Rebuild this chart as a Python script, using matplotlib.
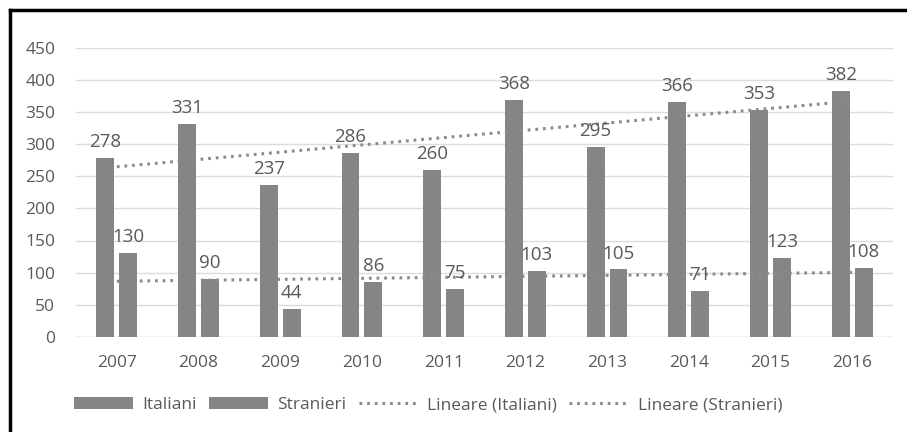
import matplotlib
matplotlib.use("Agg")
import matplotlib.pyplot as plt
import numpy as np
from matplotlib.lines import Line2D

years = ["2007", "2008", "2009", "2010", "2011", "2012", "2013", "2014", "2015", "2016"]
italiani = [278, 331, 237, 286, 260, 368, 295, 366, 353, 382]
stranieri = [130, 90, 44, 86, 75, 103, 105, 71, 123, 108]
yticks = [0, 50, 100, 150, 200, 250, 300, 350, 400, 450]

plt.rcParams['font.family'] = ['Open Sans', 'DejaVu Sans']
txt = '#595959'
bar_c = '#858585'

fig = plt.figure(figsize=(9.07, 4.32), dpi=100)
ax = fig.add_axes([76/907, 1-337/432, (893-76)/907, (337-47.5)/432])

x = np.arange(len(years))
w = 0.22
gap = 0.06
off = (w + gap) / 2
b1 = ax.bar(x - off, italiani, w, color=bar_c, label='Italiani', zorder=3)
b2 = ax.bar(x + off, stranieri, w, color=bar_c, label='Stranieri', zorder=3)

for bars, vals in ((b1, italiani), (b2, stranieri)):
    for r, v in zip(bars, vals):
        ax.annotate(str(v), (r.get_x() + r.get_width()/2, v), xytext=(0, 5),
                    textcoords='offset points', ha='center', va='bottom',
                    fontsize=13.5, color=txt, zorder=5)

xi = np.arange(1, len(years) + 1)
lines = []
for vals, lab in ((italiani, 'Lineare (Italiani)'), (stranieri, 'Lineare (Stranieri)')):
    m, q = np.polyfit(xi, vals, 1)
    ln, = ax.plot(x, m*xi + q, color='#8a8a8a', lw=2.2, linestyle=(0, (0.9, 1.6)),
                  label=lab, zorder=4)
    lines.append(ln)

ax.set_xlim(-0.5, len(years) - 0.5)
ax.set_ylim(0, 450)
ax.set_yticks(yticks)
ax.set_xticks(x)
ax.set_xticklabels(years)
ax.grid(axis='y', color='#dcdcdc', lw=1, zorder=0)
for s in ax.spines.values():
    s.set_visible(False)
ax.tick_params(axis='both', length=0, labelsize=12.5, colors=txt)
ax.tick_params(axis='y', pad=15)
ax.tick_params(axis='x', pad=13)
ax.axhline(0, color='#d0d0d0', lw=1, zorder=1)

handles = [b1, b2, lines[0], lines[1]]
labels = ['Italiani', 'Stranieri', 'Lineare (Italiani)', 'Lineare (Stranieri)']
leg = fig.legend(handles, labels, loc='center', bbox_to_anchor=(0.472, 1-405/432), ncol=4,
                 frameon=False, fontsize=12.5, handlelength=3.4, handletextpad=0.55,
                 columnspacing=0.7, labelcolor=txt)

fig.add_artist(Line2D([10/907, 10/907], [0, 1-10/432], color='black', lw=2.5,
                      transform=fig.transFigure))
fig.add_artist(Line2D([10/907, 1], [1-10/432, 1-10/432], color='black', lw=2.5,
                      transform=fig.transFigure))

fig.savefig('out.png', dpi=100)
